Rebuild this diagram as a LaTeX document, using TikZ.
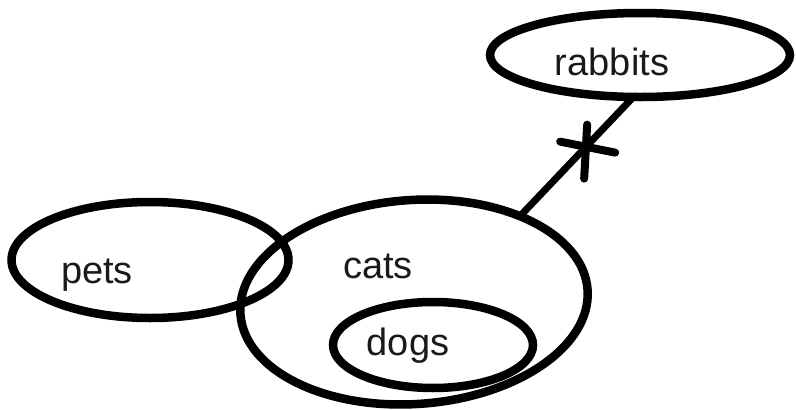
\documentclass[tikz,border=0pt]{standalone}
\usepackage{fontspec}
\setmainfont{Liberation Sans}
\usetikzlibrary{shapes.geometric,calc}
\definecolor{ink}{HTML}{000000}
\definecolor{txt}{HTML}{1A1A1A}
\tikzset{
  set/.style={draw=ink, ellipse, line width=8.5pt, inner sep=0pt, outer sep=0pt},
  lbl/.style={anchor=base, text=txt, inner sep=0pt, font=\fontsize{38}{40}\selectfont},
  link/.style={draw=ink, line width=7pt},
  tick/.style={draw=ink, line width=8pt, line cap=round}
}
\begin{document}
\begin{tikzpicture}[x=1pt,y=-1pt]
\useasboundingbox[fill=white] (0,0) rectangle (796,410);
\node[set, minimum width=277pt, minimum height=116pt] (pets) at (150,260) {};
\node[set, minimum width=348pt, minimum height=204pt, rotate=4] (cats) at (414,302) {};
\node[set, minimum width=200pt, minimum height=86pt] (dogs) at (433,345) {};
\node[set, minimum width=300pt, minimum height=84pt] (rabbits) at (640,55) {};
\node[lbl] (tpets) at (97,283) {pets};
\node[lbl] (tcats) at (378,278) {cats};
\node[lbl] (tdogs) at (408,355) {dogs};
\node[lbl] (trabbits) at (612,75) {rabbits};
\coordinate (c1) at (cats.35);
\coordinate (r1) at (rabbits.261);
\draw[link] (c1) -- (r1);
\coordinate (m) at ($(c1)!0.575!(r1)$);
\draw[tick] ($(m)+(2,-23)$) -- ($(m)+(-1,31)$);
\draw[tick] ($(m)+(-25,-6)$) -- ($(m)+(30,5)$);
\end{tikzpicture}
\end{document}
